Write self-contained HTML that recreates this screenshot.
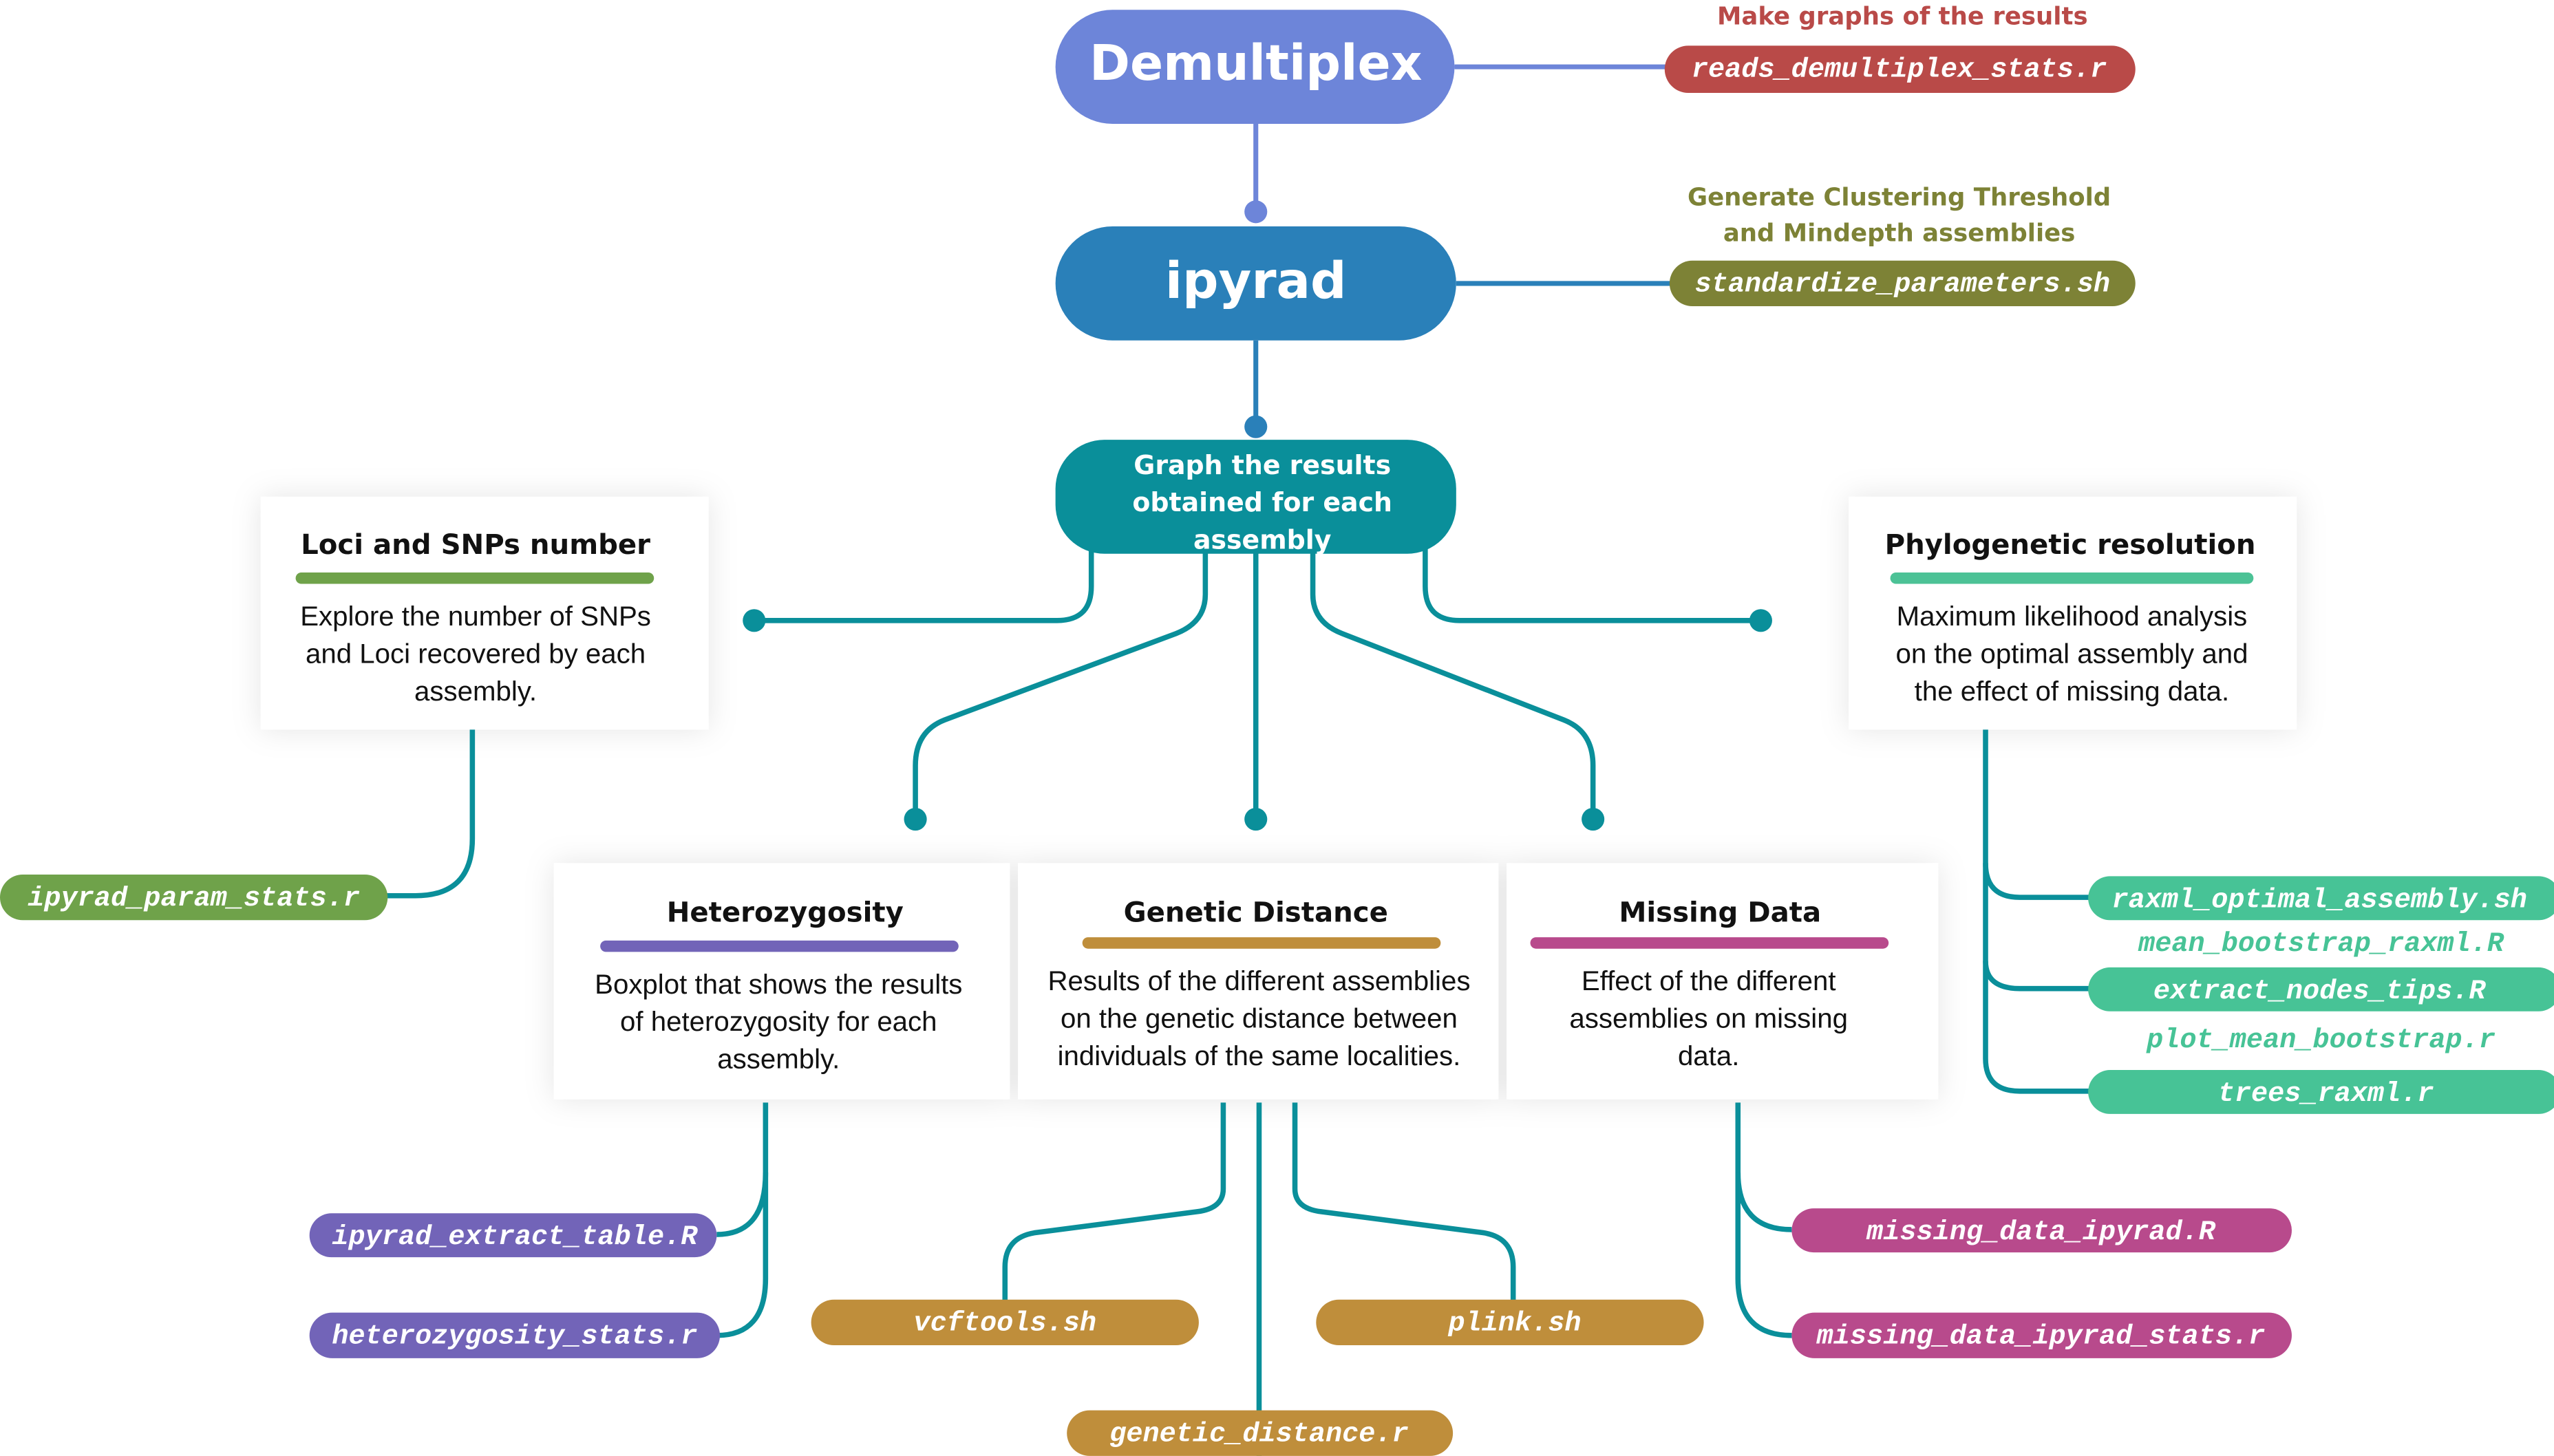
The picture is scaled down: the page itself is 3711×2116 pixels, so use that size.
<!DOCTYPE html>
<html><head><meta charset="utf-8"><style>
html,body{margin:0;padding:0;background:#fff;}
svg{display:block;}
.h{font-family:"DejaVu Sans","Liberation Sans",sans-serif;font-weight:bold;}
.b{font-family:"Liberation Sans",sans-serif;fill:#111;font-size:17px;}
.m{font-family:"Liberation Mono",monospace;font-weight:bold;font-style:italic;fill:#fff;font-size:17px;}
</style></head><body>
<svg width="3711" height="2116" viewBox="0 0 1568 894" xmlns="http://www.w3.org/2000/svg">
<defs>
<filter id="sh" x="-20%" y="-30%" width="140%" height="160%">
<feDropShadow dx="0" dy="0" stdDeviation="9" flood-color="#000" flood-opacity="0.10"/>
</filter>
</defs>
<rect width="1568" height="894" fill="#fff"/>
<g filter="url(#sh)" fill="#fff">
<rect x="160" y="305" width="275" height="143"/>
<rect x="1135" y="305" width="275" height="143"/>
<rect x="340" y="530" width="280" height="145"/>
<rect x="625" y="530" width="295" height="145"/>
<rect x="925" y="530" width="265" height="145"/>
</g>
<line x1="893" y1="41" x2="1025" y2="41" stroke="#6d85d9" stroke-width="3"/>
<line x1="771" y1="76" x2="771" y2="130" stroke="#6d85d9" stroke-width="3"/>
<circle cx="771" cy="130" r="7" fill="#6d85d9"/>
<line x1="894" y1="174" x2="1028" y2="174" stroke="#2a80b9" stroke-width="3"/>
<line x1="771" y1="209" x2="771" y2="262" stroke="#2a80b9" stroke-width="3"/>
<circle cx="771" cy="262" r="7" fill="#2a80b9"/>
<g fill="none" stroke="#0a8f9a" stroke-width="3.2">
<path d="M670 335 V360 Q670 381 649 381 H463"/>
<path d="M740 335 V365 Q740 382 722 389 L580 442 Q562 449 562 470 V503"/>
<path d="M771 335 V503"/>
<path d="M806 335 V365 Q806 382 824 389 L960 442 Q978 449 978 470 V503"/>
<path d="M875 335 V360 Q875 381 896 381 H1081"/>
<path d="M290 448 V515 Q290 550 255 550 H230"/>
<path d="M1219 448 V530 Q1219 551 1240 551 H1290"/>
<path d="M1219 530 V590 Q1219 607 1240 607 H1290"/>
<path d="M1219 590 V650 Q1219 670 1240 670 H1290"/>
<path d="M470 677 V720 Q470 758 440 758"/>
<path d="M470 720 V785 Q470 820 440 820"/>
<path d="M751 677 V730 Q751 742 735 744 L635 757 Q617 760 617 778 V800"/>
<path d="M773 677 V894"/>
<path d="M795 677 V730 Q795 742 811 744 L911 757 Q929 760 929 778 V800"/>
<path d="M1067 677 V720 Q1067 755 1100 755"/>
<path d="M1067 720 V785 Q1067 820 1100 820"/>
</g>
<g fill="#0a8f9a">
<circle cx="463" cy="381" r="7"/><circle cx="1081" cy="381" r="7"/>
<circle cx="562" cy="503" r="7"/><circle cx="771" cy="503" r="7"/><circle cx="978" cy="503" r="7"/>
</g>
<rect x="648" y="6" width="245" height="70" rx="35" fill="#6d85d9"/>
<text x="771" y="49" text-anchor="middle" class="h" fill="#fff" font-size="30">Demultiplex</text>
<rect x="648" y="139" width="246" height="70" rx="35" fill="#2a80b9"/>
<text x="771" y="183" text-anchor="middle" class="h" fill="#fff" font-size="31">ipyrad</text>
<rect x="648" y="270" width="246" height="70" rx="30" fill="#0a8f9a"/>
<g class="h" fill="#fff" font-size="16" text-anchor="middle">
<text x="775" y="291">Graph the results</text>
<text x="775" y="314">obtained for each</text>
<text x="775" y="337">assembly</text>
</g>
<text x="1168" y="15" text-anchor="middle" class="h" fill="#b94a48" font-size="15">Make graphs of the results</text>
<rect x="1022" y="28" width="289" height="29" rx="14.5" fill="#b94a48"/>
<text x="1166" y="47" text-anchor="middle" class="m">reads_demultiplex_stats.r</text>
<text x="1166" y="126" text-anchor="middle" class="h" fill="#7d8236" font-size="15">Generate Clustering Threshold</text>
<text x="1166" y="148" text-anchor="middle" class="h" fill="#7d8236" font-size="15">and Mindepth assemblies</text>
<rect x="1025" y="160" width="286" height="28" rx="14" fill="#7d8236"/>
<text x="1168" y="179" text-anchor="middle" class="m">standardize_parameters.sh</text>
<g class="h" fill="#111" font-size="17" text-anchor="middle">
<text x="292" y="340">Loci and SNPs number</text>
<text x="1271" y="340">Phylogenetic resolution</text>
<text x="482" y="566">Heterozygosity</text>
<text x="771" y="566">Genetic Distance</text>
<text x="1056" y="566">Missing Data</text>
</g>
<g stroke-width="7" stroke-linecap="round">
<line x1="185" y1="355" x2="398" y2="355" stroke="#6fa24a"/>
<line x1="1164" y1="355" x2="1380" y2="355" stroke="#4cc296"/>
<line x1="372" y1="581" x2="585" y2="581" stroke="#7264b8"/>
<line x1="668" y1="579" x2="881" y2="579" stroke="#bf8e3b"/>
<line x1="943" y1="579" x2="1156" y2="579" stroke="#b84a8c"/>
</g>
<g class="b" text-anchor="middle">
<text x="292" y="384">Explore the number of SNPs</text>
<text x="292" y="407">and Loci recovered by each</text>
<text x="292" y="430">assembly.</text>
<text x="1272" y="384">Maximum likelihood analysis</text>
<text x="1272" y="407">on the optimal assembly and</text>
<text x="1272" y="430">the effect of missing data.</text>
<text x="478" y="610">Boxplot that shows the results</text>
<text x="478" y="633">of heterozygosity for each</text>
<text x="478" y="656">assembly.</text>
<text x="773" y="608">Results of the different assemblies</text>
<text x="773" y="631">on the genetic distance between</text>
<text x="773" y="654">individuals of the same localities.</text>
<text x="1049" y="608">Effect of the different</text>
<text x="1049" y="631">assemblies on missing</text>
<text x="1049" y="654">data.</text>
</g>
<rect x="0" y="537" width="238" height="28" rx="14" fill="#6fa24a"/>
<text x="119" y="556" text-anchor="middle" class="m">ipyrad_param_stats.r</text>
<g fill="#47c396">
<rect x="1282" y="538" width="290" height="27" rx="13.5"/>
<rect x="1282" y="594" width="290" height="27" rx="13.5"/>
<rect x="1282" y="657" width="290" height="27" rx="13.5"/>
</g>
<text x="1424" y="557" text-anchor="middle" class="m">raxml_optimal_assembly.sh</text>
<text x="1424" y="613" text-anchor="middle" class="m">extract_nodes_tips.R</text>
<text x="1428" y="676" text-anchor="middle" class="m">trees_raxml.r</text>
<text x="1425" y="584" text-anchor="middle" class="m" style="fill:#47c396">mean_bootstrap_raxml.R</text>
<text x="1425" y="643" text-anchor="middle" class="m" style="fill:#47c396">plot_mean_bootstrap.r</text>
<g fill="#7264b8">
<rect x="190" y="745" width="250" height="27" rx="13.5"/>
<rect x="190" y="806" width="252" height="28" rx="14"/>
</g>
<text x="316" y="764" text-anchor="middle" class="m">ipyrad_extract_table.R</text>
<text x="316" y="825" text-anchor="middle" class="m">heterozygosity_stats.r</text>
<g fill="#bf8e3b">
<rect x="498" y="798" width="238" height="28" rx="14"/>
<rect x="808" y="798" width="238" height="28" rx="14"/>
<rect x="655" y="866" width="237" height="28" rx="14"/>
</g>
<text x="617" y="817" text-anchor="middle" class="m">vcftools.sh</text>
<text x="930" y="817" text-anchor="middle" class="m">plink.sh</text>
<text x="773" y="885" text-anchor="middle" class="m">genetic_distance.r</text>
<g fill="#b84a8c">
<rect x="1100" y="742" width="307" height="27" rx="13.5"/>
<rect x="1100" y="806" width="307" height="28" rx="14"/>
</g>
<text x="1253" y="761" text-anchor="middle" class="m">missing_data_ipyrad.R</text>
<text x="1253" y="825" text-anchor="middle" class="m">missing_data_ipyrad_stats.r</text>
</svg>
</body></html>
